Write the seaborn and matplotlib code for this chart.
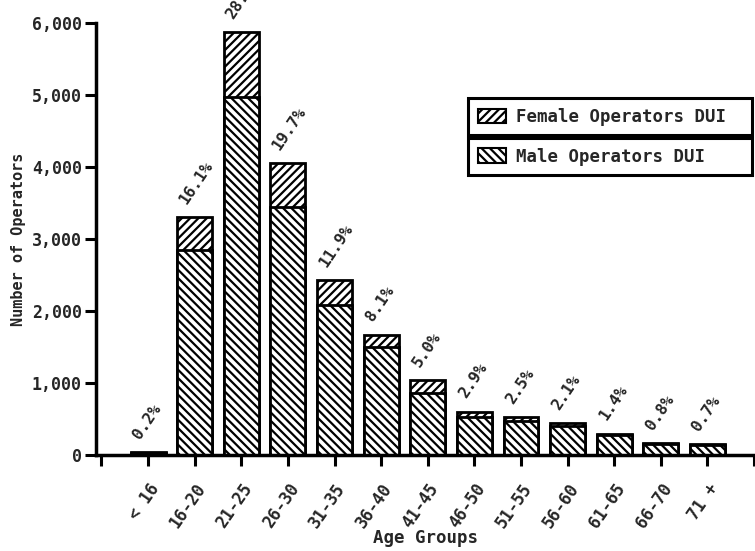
import pandas as pd
import matplotlib.pyplot as plt
import seaborn as sns
from matplotlib.patches import Patch

age_groups = ['< 16', '16-20', '21-25', '26-30', '31-35', '36-40', '41-45',
              '46-50', '51-55', '56-60', '61-65', '66-70', '71 +']
male = [35, 2850, 4970, 3440, 2080, 1500, 860, 535, 470, 400, 285, 155, 140]
female = [5, 455, 905, 615, 350, 170, 180, 65, 57, 40, 15, 10, 10]
pct_labels = ['0.2%', '16.1%', '28.5%', '19.7%', '11.9%', '8.1%', '5.0%',
              '2.9%', '2.5%', '2.1%', '1.4%', '0.8%', '0.7%']

df = pd.DataFrame({'Age Group': age_groups, 'Male': male, 'Female': female})
df['Total'] = df['Male'] + df['Female']

sns.set_theme(style="ticks")
plt.rcParams['font.family'] = ['DejaVu Sans Mono', 'DejaVu Sans']
plt.rcParams['font.weight'] = 'bold'
plt.rcParams['hatch.linewidth'] = 1.6
plt.rcParams['hatch.color'] = 'black'

fig = plt.figure(figsize=(7.55, 5.51), dpi=100)
ax = fig.add_axes([0.127, 0.174, 0.873, 0.784])

# female sits on top: draw the total first, then the male part over it
sns.barplot(data=df, x='Age Group', y='Total', color='white', edgecolor='black',
            linewidth=2, width=0.75, saturation=1, ax=ax)
sns.barplot(data=df, x='Age Group', y='Male', color='white', edgecolor='black',
            linewidth=2, width=0.75, saturation=1, ax=ax)
for p in ax.containers[0]:
    p.set_hatch('////')
for p in ax.containers[1]:
    p.set_hatch('\\\\\\\\')

for i, (tot, lab) in enumerate(zip(df['Total'], pct_labels)):
    ax.text(i - 0.12, tot + 150, lab, rotation=56, rotation_mode='anchor',
            ha='left', va='bottom', fontsize=11.5, fontweight='bold', clip_on=False)

ax.set_ylim(0, 6000)
ax.set_xlim(-1.12, 13.02)
ax.set_yticks(range(0, 6001, 1000))
ax.set_yticklabels([f'{v:,}' for v in range(0, 6001, 1000)], fontsize=12, fontweight='bold')
ax.set_xticks(range(-1, 14))
ax.set_xticklabels([''] + age_groups + [''], rotation=55, ha='right',
                   rotation_mode='anchor', fontsize=12, fontweight='bold')
ax.tick_params(axis='both', length=8, width=2.2, color='black')
ax.tick_params(axis='x', pad=10)
ax.tick_params(axis='y', pad=2)

sns.despine(ax=ax)
for s in ['left', 'bottom']:
    ax.spines[s].set_linewidth(2.5)
    ax.spines[s].set_color('black')

ax.set_xlabel('Age Groups', fontsize=12.5, fontweight='bold', labelpad=-2)
ax.set_ylabel('Number of Operators', fontsize=11, fontweight='bold', labelpad=4)

leg_kw = dict(loc='upper left', mode='expand', frameon=True, fancybox=False,
              edgecolor='black', framealpha=1, borderaxespad=0,
              prop={'weight': 'bold', 'size': 12.5}, borderpad=0.55,
              handlelength=1.6, handleheight=0.9, handletextpad=0.6)
leg1 = ax.legend(handles=[Patch(facecolor='white', edgecolor='black', hatch='////', linewidth=1.5)],
                 labels=['Female Operators DUI'],
                 bbox_to_anchor=(0.565, 0.726, 0.431, 0.1), **leg_kw)
leg1.get_frame().set_linewidth(2.2)
ax.add_artist(leg1)
leg2 = ax.legend(handles=[Patch(facecolor='white', edgecolor='black', hatch='\\\\\\\\', linewidth=1.5)],
                 labels=['Male Operators DUI'],
                 bbox_to_anchor=(0.565, 0.634, 0.431, 0.1), **leg_kw)
leg2.get_frame().set_linewidth(2.2)

plt.savefig('out.png', dpi=100)
plt.close()
